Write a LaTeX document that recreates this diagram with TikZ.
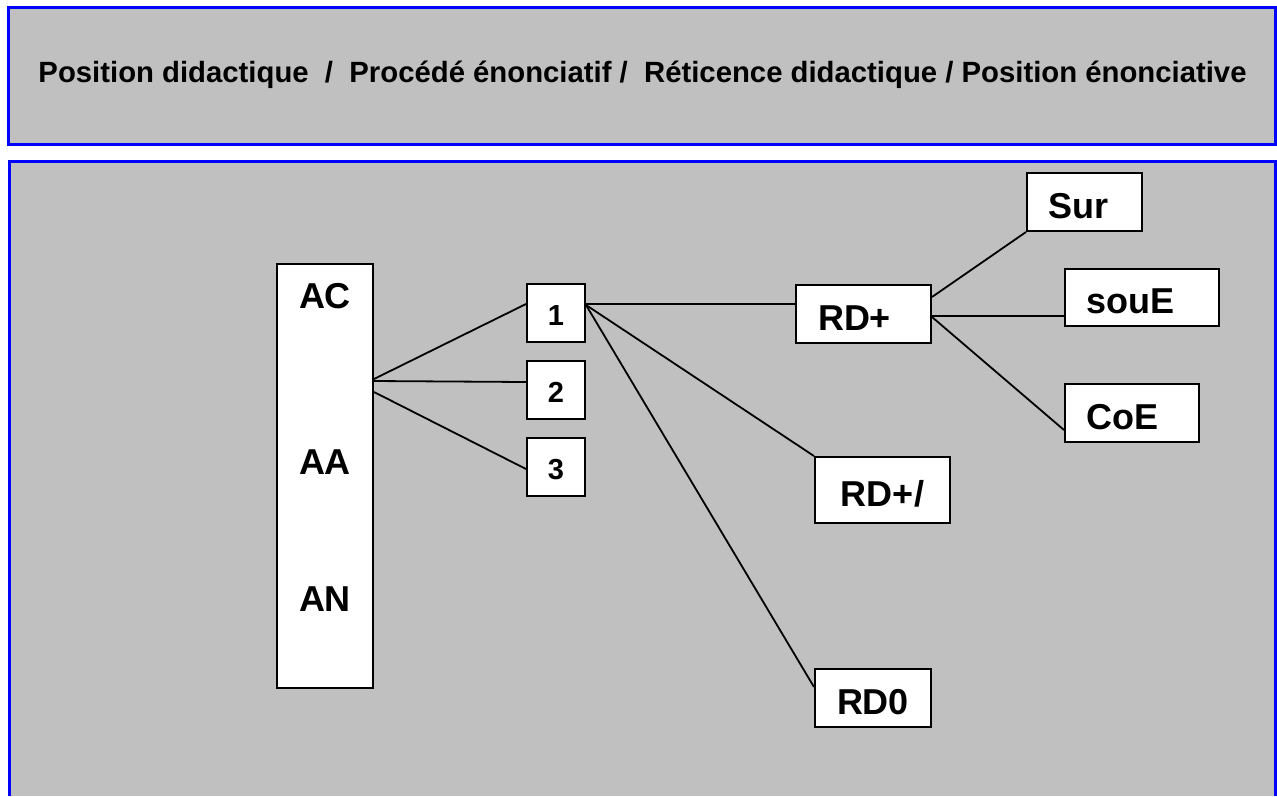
\documentclass[tikz,border=0pt]{standalone}
\usepackage{fontspec}
\setmainfont{Liberation Sans}
\definecolor{panelgray}{HTML}{C0C0C0}

\begin{document}
\begin{tikzpicture}[x=1pt,y=-1pt,
    panel/.style={draw=blue,line width=3pt,fill=panelgray},
    box/.style={rectangle,draw=black,fill=white,line width=2pt,inner xsep=21pt,inner ysep=0pt,
        text height=32pt,text depth=0pt,align=left,font=\bfseries\fontsize{36}{36}\selectfont},
    num/.style={rectangle,draw=black,fill=white,line width=2pt,inner sep=0pt,minimum size=58pt,
        text height=24pt,text depth=0pt,font=\bfseries\fontsize{29}{29}\selectfont},
    lab/.style={inner sep=0pt,text height=26pt,text depth=0pt,font=\bfseries\fontsize{36}{36}\selectfont},
    link/.style={line width=1.8pt}]
    \useasboundingbox (0,0) rectangle (1277,796);
    % the two panels
    \draw[panel] (8.5,7.5) rectangle (1275.5,144);
    \fill[panelgray] (9,161.5) rectangle (1275.5,796);
    \draw[blue,line width=3pt] (9,796) -- (9,161.5) -- (1275.5,161.5) -- (1275.5,796);
    \node[inner sep=0pt,text height=21pt,text depth=0pt,font=\bfseries\fontsize{29.3}{30}\selectfont] (title) at (642.5,72)
        {Position didactique\ \ /\ \ Procédé énonciatif /\ \ Réticence didactique / Position énonciative};
        % left column
        \node[rectangle,draw=black,fill=white,line width=2pt,minimum width=96pt,minimum height=424pt] (col) at (325,476) {};
        \node[lab] (ac) at (325,295) {AC};
        \node[lab] (aa) at (325,461) {AA};
        \node[lab] (an) at (325,598) {AN};
        % numbered boxes
        \node[num] (n1) at (556,313) {1};
        \node[num] (n2) at (556,390) {2};
        \node[num] (n3) at (556,467) {3};
        % RD boxes
        \node[box,text width=91pt,inner xsep=22pt,minimum height=58pt] (rdp) at (863.5,314) {RD+};
        \node[box,text width=93pt,align=center,minimum height=66pt] (rds) at (882.5,490) {RD+/};
        \node[box,text width=74pt,align=center,minimum height=58pt] (rd0) at (873,698) {RD0};
        \node[box,text width=73pt,minimum height=58pt] (sur) at (1084.5,202) {Sur};
        \node[box,text width=112pt,minimum height=57pt] (soue) at (1142,297.5) {souE};
        \node[box,text width=92pt,minimum height=58pt] (coe) at (1132,413) {CoE};
        % connectors
        \draw[link] ([yshift=-116pt]col.north east) -- ([yshift=9pt]n1.west);
        \draw[link] ([yshift=-118pt]col.north east) -- ([yshift=8pt]n2.west);
        \draw[link] ([yshift=-129pt]col.north east) -- ([yshift=-2pt]n3.west);
        \draw[link] ([yshift=9pt]n1.east) -- ([yshift=10pt]rdp.west);
        \draw[link] ([yshift=8pt]n1.east) -- (rds.north west);
        \draw[link] ([yshift=8pt]n1.east) -- ([yshift=11pt]rd0.west);
        \draw[link] ([yshift=17pt]rdp.east) -- (sur.south west);
        \draw[link] ([yshift=-2pt]rdp.east) -- ([yshift=-18.5pt]soue.west);
        \draw[link] ([yshift=-3pt]rdp.east) -- ([yshift=-17pt]coe.west);
    \end{tikzpicture}
\end{document}
